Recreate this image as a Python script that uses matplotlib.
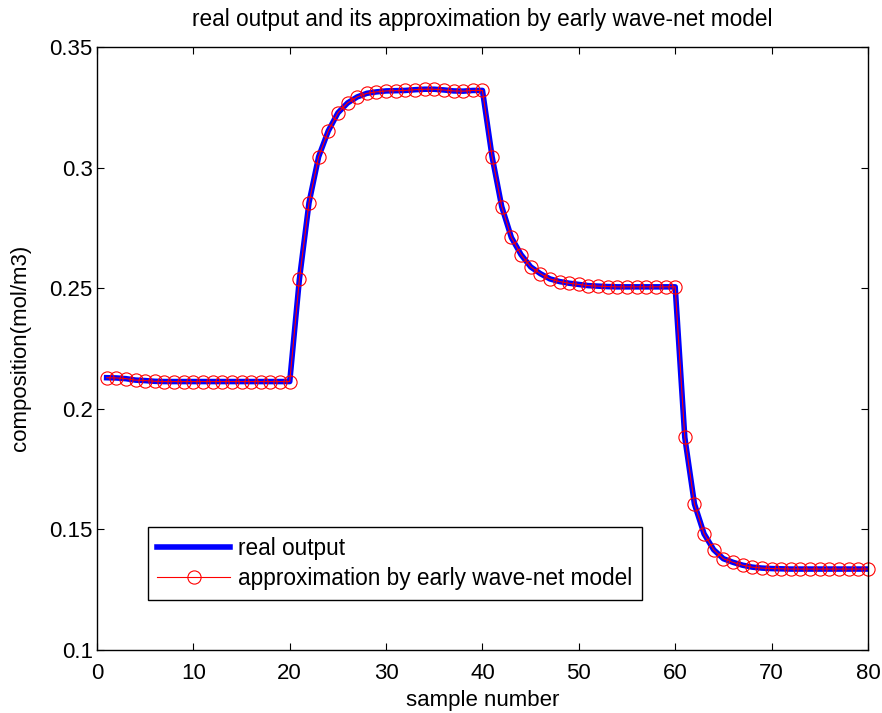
import matplotlib
matplotlib.use("Agg")
import matplotlib.pyplot as plt
import numpy as np

plt.rcParams["font.family"] = ["Liberation Sans", "DejaVu Sans"]

# sample index and composition values
samples = np.arange(1, 81)

seg_low = [0.2128, 0.2127, 0.2124, 0.2118, 0.2116, 0.2113, 0.2112, 0.2112, 0.2112, 0.2112,
           0.2112, 0.2112, 0.2112, 0.2112, 0.2112, 0.2112, 0.2112, 0.2112, 0.2112, 0.2112]
seg_high = [0.2536, 0.2854, 0.3045, 0.3152, 0.3227, 0.3268, 0.3293, 0.3308, 0.3314, 0.3318,
            0.3319, 0.3320, 0.3323, 0.3325, 0.3325, 0.3322, 0.3318, 0.3317, 0.3320, 0.3320]
seg_mid = [0.3045, 0.2838, 0.2710, 0.2639, 0.2588, 0.2560, 0.2538, 0.2527, 0.2520, 0.2515,
           0.2510, 0.2508, 0.2506, 0.2505, 0.2505, 0.2505, 0.2505, 0.2505, 0.2505, 0.2505]
seg_end = [0.1880, 0.1604, 0.1480, 0.1414, 0.1377, 0.1362, 0.1350, 0.1342, 0.1338, 0.1336,
           0.1335, 0.1334, 0.1334, 0.1334, 0.1334, 0.1334, 0.1334, 0.1334, 0.1334, 0.1334]

real_output = np.array(seg_low + seg_high + seg_mid + seg_end)
approx_output = real_output.copy()

x_ticks = [0, 10, 20, 30, 40, 50, 60, 70, 80]
y_ticks = [0.1, 0.15, 0.2, 0.25, 0.3, 0.35]
y_tick_labels = ["0.1", "0.15", "0.2", "0.25", "0.3", "0.35"]


def main():
    fig = plt.figure(figsize=(8.82, 7.13), dpi=100)
    ax = fig.add_axes([0.110, 0.089, 0.874, 0.845])

    ax.plot(samples, real_output, color="#0000ff", lw=4, label="real output")
    ax.plot(samples, approx_output, color="#ff0000", lw=0.8, marker="o",
            markersize=9.5, markerfacecolor="none", markeredgecolor="#ff0000",
            markeredgewidth=0.8, clip_on=False,
            label="approximation by early wave-net model")

    ax.set_xlim(0, 80)
    ax.set_ylim(0.1, 0.35)
    ax.set_xticks(x_ticks)
    ax.set_yticks(y_ticks)
    ax.set_yticklabels(y_tick_labels)
    ax.tick_params(direction="in", top=True, right=True, labelsize=16,
                   length=5, width=0.8)
    ax.tick_params(axis="x", pad=10)
    ax.tick_params(axis="y", pad=3)
    for s in ax.spines.values():
        s.set_linewidth(1.0)

    ax.set_title("real output and its approximation by early wave-net model",
                 fontsize=16.3, pad=15)
    ax.set_xlabel("sample number", fontsize=16, labelpad=4)
    ax.set_ylabel("composition(mol/m3)", fontsize=16, labelpad=13)

    leg = ax.legend(loc="lower left", bbox_to_anchor=(0.066, 0.083),
                    borderaxespad=0, fancybox=False, framealpha=1,
                    edgecolor="black", fontsize=16.3, handlelength=3.2,
                    handletextpad=0.35, borderpad=0.42, labelspacing=0.33)
    leg.get_frame().set_linewidth(1.0)

    fig.savefig("out.png", dpi=100)
    plt.close(fig)


if __name__ == "__main__":
    main()
